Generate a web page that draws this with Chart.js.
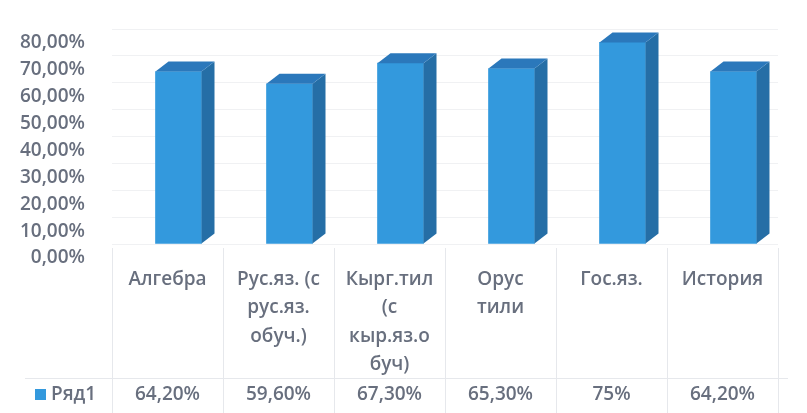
<!DOCTYPE html>
<html>
<head>
<meta charset="utf-8">
<script src="https://cdn.jsdelivr.net/npm/chart.js@4/dist/chart.umd.min.js"></script>
<style>
  html, body { margin: 0; padding: 0; background: #fff; }
  #wrap { width: 807px; height: 413px; }
</style>
</head>
<body>
<div id="wrap"><canvas id="scoreChart" width="807" height="413"></canvas></div>
<script>
const categories = [
    ['Алгебра'],
    ['Рус.яз. (с', 'рус.яз.', 'обуч.)'],
    ['Кырг.тил', '(с', 'кыр.яз.о', 'буч)'],
    ['Орус', 'тили'],
    ['Гос.яз.'],
    ['История']
];
const seriesName = 'Ряд1';
const seriesValues = [64.2, 59.6, 67.3, 65.3, 75, 64.2];
const yTicks = [0, 10, 20, 30, 40, 50, 60, 70, 80];

const textColor = '#686f7e';
const fontFamily = '"Open Sans", "Noto Sans", sans-serif';
const fontWeight = 600;

function pct(v) {
    return Number.isInteger(v) ? v + '%' : v.toFixed(2).replace('.', ',') + '%';
}

// bars sit a little to the right of their table column (3D view)
const barShift = 11;
const depthX = 13, depthY = -10;

const bars3d = {
    id: 'bars3d',
    beforeDatasetsDraw(chart) {
        chart.ctx.save();
        chart.ctx.translate(barShift, 0);
    },
    afterDatasetsDraw(chart) {
        const ctx = chart.ctx;
        chart.getDatasetMeta(0).data.forEach(bar => {
            const l = bar.x - bar.width / 2, r = bar.x + bar.width / 2;
            const t = bar.y, b = bar.base;
            // side
            ctx.fillStyle = '#256ea6';
            ctx.beginPath();
            ctx.moveTo(r, t);
            ctx.lineTo(r + depthX, t + depthY);
            ctx.lineTo(r + depthX, b + depthY);
            ctx.lineTo(r, b);
            ctx.closePath();
            ctx.fill();
            // top
            ctx.fillStyle = '#2b78bb';
            ctx.beginPath();
            ctx.moveTo(l, t);
            ctx.lineTo(l + depthX, t + depthY);
            ctx.lineTo(r + depthX, t + depthY);
            ctx.lineTo(r, t);
            ctx.closePath();
            ctx.fill();
        });
        ctx.restore();
    }
};

const dataTable = {
    id: 'dataTable',
    afterDraw(chart) {
        const ctx = chart.ctx;
        const x = chart.scales.x;
        const area = chart.chartArea;
        const half = (x.getPixelForValue(1) - x.getPixelForValue(0)) / 2;
        const rowY = 378;
        ctx.save();
        ctx.strokeStyle = '#e6e8ec';
        ctx.lineWidth = 1;
        // column separators
        for (let i = 0; i <= categories.length; i++) {
            const px = Math.round(x.getPixelForValue(0) - half + i * half * 2) + 0.5;
            ctx.beginPath();
            ctx.moveTo(px, area.bottom + 4);
            ctx.lineTo(px, chart.height);
            ctx.stroke();
        }
        ctx.beginPath();
        ctx.moveTo(25, rowY + 0.5);
        ctx.lineTo(x.right + 10, rowY + 0.5);
        ctx.stroke();

        // legend key + values row
        ctx.font = fontWeight + ' 19px ' + fontFamily;
        ctx.textBaseline = 'middle';
        ctx.fillStyle = '#3399dd';
        ctx.fillRect(35, 389, 11, 11);
        ctx.fillStyle = textColor;
        ctx.textAlign = 'left';
        ctx.fillText(seriesName, 51, 395);
        ctx.textAlign = 'center';
        seriesValues.forEach((v, i) => {
            ctx.fillText(pct(v), x.getPixelForValue(i), 395);
        });
        ctx.restore();
    }
};

document.addEventListener('DOMContentLoaded', function() {
    const ctx = document.getElementById('scoreChart').getContext('2d');
    new Chart(ctx, {
        type: 'bar',
        data: {
            labels: categories,
            datasets: [{
                label: seriesName,
                data: seriesValues,
                backgroundColor: '#3399dd',
                borderWidth: 0,
                barThickness: 46
            }]
        },
        options: {
            responsive: false,
            animation: false,
            events: [],
            layout: { padding: { top: 29, right: 29, left: 0, bottom: 0 } },
            plugins: {
                legend: { display: false },
                tooltip: { enabled: false }
            },
            scales: {
                x: {
                    grid: { display: false },
                    border: { display: false },
                    ticks: {
                        color: textColor,
                        font: { family: fontFamily, size: 19, weight: fontWeight, lineHeight: 1.5 },
                        padding: 13,
                        maxRotation: 0,
                        autoSkip: false
                    },
                    afterFit(scale) { scale.height = 169; }
                },
                y: {
                    min: 0,
                    max: 80,
                    afterBuildTicks(scale) {
                        scale.ticks = yTicks.map(v => ({ value: v }));
                    },
                    grid: { color: '#f0f1f3', drawTicks: false },
                    border: { display: false },
                    ticks: {
                        color: textColor,
                        font: { family: fontFamily, size: 19, weight: fontWeight },
                        padding: 27,
                        labelOffset: 14,
                        autoSkip: false,
                        callback: v => v.toFixed(2).replace('.', ',') + '%'
                    },
                    afterFit(scale) {
                        scale.width = 112;
                        scale.paddingTop = 0;
                        scale.paddingBottom = 0;
                    }
                }
            }
        },
        plugins: [bars3d, dataTable]
    });
});
</script>
</body>
</html>
